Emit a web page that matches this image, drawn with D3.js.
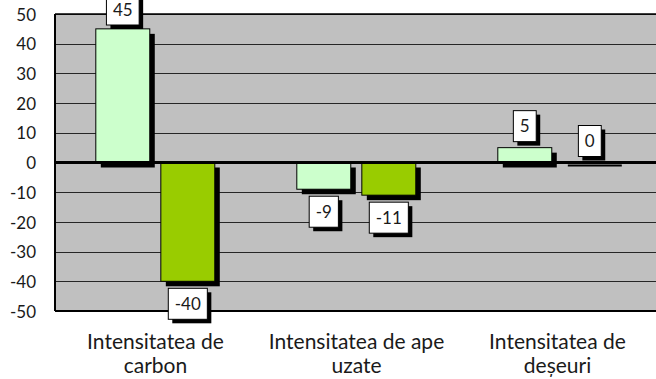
<!DOCTYPE html>
<html><head><meta charset="utf-8">
<script src="https://cdn.jsdelivr.net/npm/d3@7"></script>
<style>
html,body{margin:0;padding:0;background:#fff;}
svg{display:block;font-family:"Lato","Open Sans",sans-serif;}
</style></head>
<body>
<svg id="chart" width="656" height="379"></svg>
<script>
const categories = ["Intensitatea de carbon", "Intensitatea de ape uzate", "Intensitatea de deșeuri"];
const categoryLines = [["Intensitatea de", "carbon"], ["Intensitatea de ape", "uzate"], ["Intensitatea de", "deșeuri"]];
const seriesNames = ["Serie 1", "Serie 2"];
const series1 = [45, -9, 5];
const series2 = [-40, -11, 0];
const yTicks = [50, 40, 30, 20, 10, 0, -10, -20, -30, -40, -50];
const seriesColors = ["#ccffcc", "#99cc00"];

const svg = d3.select("#chart");
const pLeft = 55, pRight = 658, pTop = 14, pBottom = 311;
const fontSize = 17;
const catFontSize = 21;
const fmt = d => String(Math.round(d));

const x0 = d3.scaleBand().domain(categories).range([pLeft, pRight]).paddingInner(0).paddingOuter(0);
const bw = x0.bandwidth();
const x1 = d3.scaleBand().domain(seriesNames).range([bw * 0.203, bw * 0.795]).paddingInner(0.17).paddingOuter(0);
const y = d3.scaleLinear().domain([-50, 50]).range([pBottom, pTop]);

const data = [];
categories.forEach((c, i) => {
  data.push({cat: c, s: seriesNames[0], v: series1[i], color: seriesColors[0]});
  data.push({cat: c, s: seriesNames[1], v: series2[i], color: seriesColors[1]});
});

// background
svg.append("rect").attr("x", pLeft).attr("y", pTop).attr("width", pRight - pLeft).attr("height", pBottom - pTop).attr("fill", "#c0c0c0");

// gridlines
svg.append("g").selectAll("line").data(yTicks.filter(t => t !== 0)).join("line")
  .attr("x1", pLeft).attr("x2", pRight)
  .attr("y1", d => Math.round(y(d)) + 0.5).attr("y2", d => Math.round(y(d)) + 0.5)
  .attr("stroke", "#262626").attr("stroke-width", 1.2);

// bar shadows
const sh = 5;
const bars = svg.append("g");
bars.selectAll("rect.sh").data(data).join("rect").attr("class", "sh")
  .attr("x", d => x0(d.cat) + x1(d.s) + sh)
  .attr("y", d => Math.min(y(d.v), y(0)) + (d.v === 0 ? 2 : sh))
  .attr("width", x1.bandwidth())
  .attr("height", d => Math.max(Math.abs(y(d.v) - y(0)), 2))
  .attr("fill", "#000");
bars.selectAll("rect.bar").data(data).join("rect").attr("class", "bar")
  .attr("x", d => x0(d.cat) + x1(d.s))
  .attr("y", d => Math.min(y(d.v), y(0)))
  .attr("width", x1.bandwidth())
  .attr("height", d => Math.abs(y(d.v) - y(0)))
  .attr("fill", d => d.color).attr("stroke", "#000").attr("stroke-width", 1);

// border
svg.append("line").attr("x1", pLeft).attr("x2", pRight).attr("y1", pTop).attr("y2", pTop).attr("stroke", "#000").attr("stroke-width", 1.5);
svg.append("line").attr("x1", pLeft).attr("x2", pRight).attr("y1", pBottom).attr("y2", pBottom).attr("stroke", "#000").attr("stroke-width", 2);
svg.append("line").attr("x1", pLeft).attr("x2", pLeft).attr("y1", pTop).attr("y2", pBottom).attr("stroke", "#000").attr("stroke-width", 2);
// zero axis
svg.append("line").attr("x1", pLeft).attr("x2", pRight).attr("y1", y(0)).attr("y2", y(0)).attr("stroke", "#000").attr("stroke-width", 3);

// y axis labels
const yAxis = d3.axisLeft(y).tickValues(yTicks).tickSize(0).tickPadding(0).tickFormat(fmt);
const yg = svg.append("g").attr("transform", `translate(${36},0)`).call(yAxis);
yg.select(".domain").remove();
yg.selectAll("text").attr("font-size", fontSize).attr("font-family", "Lato").attr("fill", "#1a1a1a").attr("dy", "0.36em");

// x category labels
const xg = svg.append("g");
categories.forEach((c, i) => {
  const t = xg.append("text").attr("x", x0(c) + bw / 2).attr("y", 349)
    .attr("text-anchor", "middle").attr("font-size", catFontSize).attr("fill", "#1a1a1a");
  categoryLines[i].forEach((ln, j) => {
    t.append("tspan").attr("x", x0(c) + bw / 2).attr("y", 349 + j * 24).text(ln);
  });
});

// data labels
const lg = svg.append("g");
data.forEach(d => {
  const cx = x0(d.cat) + x1(d.s) + x1.bandwidth() / 2;
  const tmp = lg.append("text").attr("font-size", fontSize).text(fmt(d.v));
  const tw = tmp.node().getComputedTextLength();
  tmp.remove();
  const bwid = tw + 13, bh = 31;
  let by = d.v >= 0 ? y(d.v) - 6 - bh : y(d.v) + 7;
  by = Math.max(by, -6);
  const bx = cx - bwid / 2;
  lg.append("rect").attr("x", bx + 4).attr("y", by + 4).attr("width", bwid).attr("height", bh).attr("fill", "#000");
  lg.append("rect").attr("x", bx).attr("y", by).attr("width", bwid).attr("height", bh).attr("fill", "#fff").attr("stroke", "#000").attr("stroke-width", 1);
  lg.append("text").attr("x", cx).attr("y", by + bh / 2).attr("dy", "0.36em").attr("text-anchor", "middle")
    .attr("font-size", fontSize).attr("fill", "#1a1a1a").text(fmt(d.v));
});
</script>
</body></html>
